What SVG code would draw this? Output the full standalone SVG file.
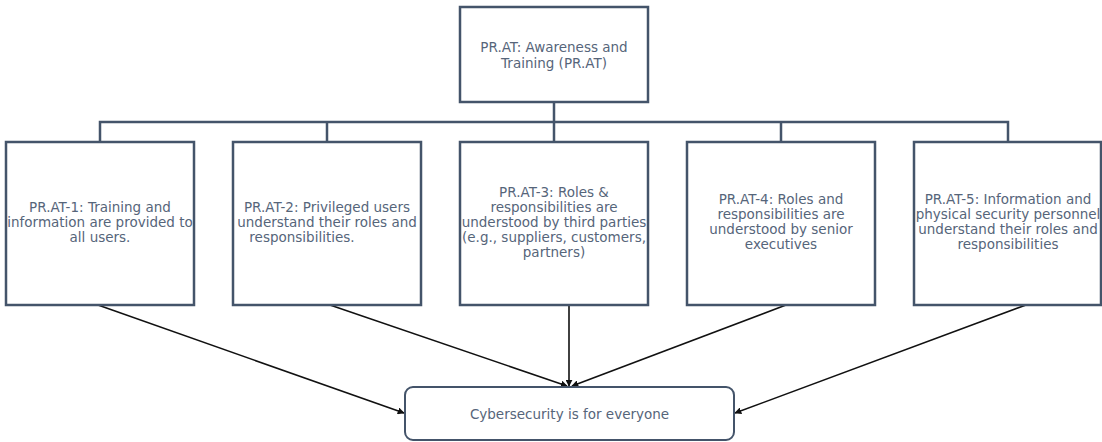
<svg xmlns="http://www.w3.org/2000/svg" width="1102" height="442" viewBox="0 0 1102 442">
  <style>
    .box { fill: #ffffff; stroke: #44546a; stroke-width: 2.5; }
    .goal { fill: #ffffff; stroke: #44546a; stroke-width: 2; }
    .tree { fill: none; stroke: #44546a; stroke-width: 2.5; }
    .flow { fill: none; stroke: #111111; stroke-width: 1.6; marker-end: url(#arrow); }
    .label { font-family: "DejaVu Sans", "Liberation Sans", sans-serif; font-size: 13.5px; fill: #56657a; text-anchor: middle; }
  </style>
  <defs>
    <marker id="arrow" viewBox="0 0 10 10" refX="9" refY="5" markerWidth="7" markerHeight="7" orient="auto" markerUnits="userSpaceOnUse">
      <path d="M0,0 L10,5 L0,10 z" fill="#111111"/>
    </marker>
  </defs>

  <!-- hierarchy lines and arrows -->
  <g id="connectors">
    <path class="tree" d="M554,102 V122 M100,142 V122 H1008 V142 M327,122 V142 M554,122 V142 M781,122 V142"/>
    <line class="flow" x1="98" y1="305" x2="404" y2="413"/>
    <line class="flow" x1="330" y1="305" x2="567" y2="386"/>
    <line class="flow" x1="569" y1="305" x2="569" y2="386"/>
    <line class="flow" x1="786" y1="305" x2="572" y2="386"/>
    <line class="flow" x1="1026" y1="305" x2="735" y2="413"/>
  </g>

  <g id="pr-at">
    <rect class="box" x="460" y="7" width="188" height="95" stroke-width="3"/>
    <text class="label" x="554" y="52">PR.AT: Awareness and</text>
    <text class="label" x="554" y="68">Training (PR.AT)</text>
  </g>

  <g id="pr-at-1">
    <rect class="box" x="6" y="142" width="188" height="163"/>
    <text class="label" x="100" y="212">PR.AT-1: Training and</text>
    <text class="label" x="100" y="227">information are provided to</text>
    <text class="label" x="100" y="242">all users.</text>
  </g>

  <g id="pr-at-2">
    <rect class="box" x="233" y="142" width="188" height="163"/>
    <text class="label" x="327" y="212">PR.AT-2: Privileged users</text>
    <text class="label" x="327" y="227">understand their roles and</text>
    <text class="label" x="302" y="242">responsibilities.</text>
  </g>

  <g id="pr-at-3">
    <rect class="box" x="460" y="142" width="188" height="163"/>
    <text class="label" x="554" y="197">PR.AT-3: Roles &amp;</text>
    <text class="label" x="554" y="212">responsibilities are</text>
    <text class="label" x="554" y="227">understood by third parties</text>
    <text class="label" x="554" y="242">(e.g., suppliers, customers,</text>
    <text class="label" x="554" y="257">partners)</text>
  </g>

  <g id="pr-at-4">
    <rect class="box" x="687" y="142" width="188" height="163"/>
    <text class="label" x="781" y="204">PR.AT-4: Roles and</text>
    <text class="label" x="781" y="219">responsibilities are</text>
    <text class="label" x="781" y="234">understood by senior</text>
    <text class="label" x="781" y="249">executives</text>
  </g>

  <g id="pr-at-5">
    <rect class="box" x="914" y="142" width="187" height="163"/>
    <text class="label" x="1008" y="204">PR.AT-5: Information and</text>
    <text class="label" x="1008" y="219">physical security personnel</text>
    <text class="label" x="1008" y="234">understand their roles and</text>
    <text class="label" x="1008" y="249">responsibilities</text>
  </g>

  <g id="goal">
    <rect class="goal" x="405" y="387" width="329" height="53" rx="8"/>
    <text class="label" x="569.5" y="419">Cybersecurity is for everyone</text>
  </g>
</svg>
